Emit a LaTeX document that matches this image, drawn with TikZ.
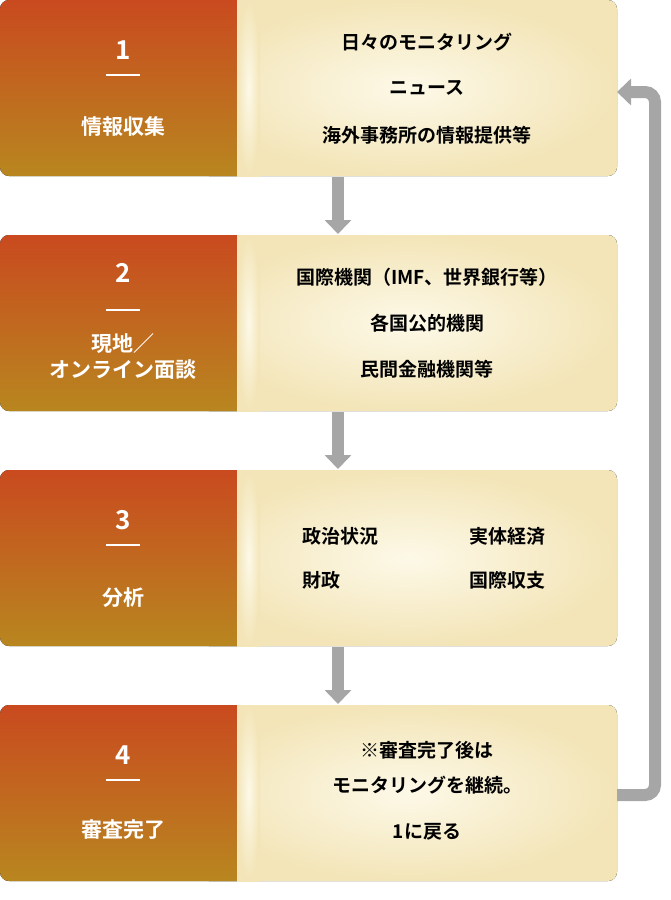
\documentclass[tikz,border=0pt]{standalone}
\usepackage{fontspec}
\setmainfont{Noto Sans CJK JP Bold}
\usetikzlibrary{arrows.meta}
\definecolor{lt}{HTML}{C94A1F}
\definecolor{lb}{HTML}{B8861F}
\definecolor{cc}{HTML}{FDF9E8}
\definecolor{ce}{HTML}{F3E5B8}
\definecolor{ag}{HTML}{A6A6A6}
\begin{document}
\begin{tikzpicture}[x=1pt,y=-1pt,
  lbox/.style={top color=lt,bottom color=lb,draw=none},
  rbox/.style={inner color=cc,outer color=ce,draw=none},
  num/.style={text=white,font=\fontsize{26}{28}\selectfont},
  lab/.style={text=white,font=\fontsize{21}{26}\selectfont,align=center},
  rt/.style={text=black,font=\fontsize{19}{22}\selectfont},
  dar/.style={ag,line width=12pt,-{Triangle[width=26pt,length=14pt]}}]
\useasboundingbox (0,0) rectangle (670,900);
\foreach \t/\i in {0/1,235/2,470/3,705/4}{
  \fill[rbox,rounded corners=9pt] (200,\t) rectangle (617,\t+176);
  \fill[lbox,rounded corners=9pt] (0,\t) rectangle (250,\t+176);
  \fill[rbox] (237,\t) rectangle (260,\t+176);
  \draw[white,line width=1.5pt] (106,\t+75) -- (140,\t+75);
}
\node[num] (n1) at (123,50) {1};
\node[lab] (l1) at (123,127) {情報収集};
\node[rt] (a1) at (427,42) {日々のモニタリング};
\node[rt] (a2) at (427,88) {ニュース};
\node[rt] (a3) at (427,135) {海外事務所の情報提供等};
\node[num] (n2) at (123,273) {2};
\node[lab] (l2) at (123,357) {現地／\\オンライン面談};
\node[rt] (b1) at (427,277) {国際機関（IMF、世界銀行等）};
\node[rt] (b2) at (427,323) {各国公的機関};
\node[rt] (b3) at (427,369) {民間金融機関等};
\node[num] (n3) at (123,520) {3};
\node[lab] (l3) at (123,598) {分析};
\node[rt] (c1) at (340,536) {政治状況};
\node[rt] (c2) at (507,536) {実体経済};
\node[rt,anchor=west] (c3) at (c1.west|-0,580) {財政};
\node[rt] (c4) at (507,580) {国際収支};
\node[num] (n4) at (123,755) {4};
\node[lab] (l4) at (123,830) {審査完了};
\node[rt] (d1) at (427,750) {※審査完了後は};
\node[rt] (d2) at (427,785) {モニタリングを継続。};
\node[rt] (d3) at (427,832) {1に戻る};
\coordinate (s1) at (338,177); \coordinate (e1) at (338,234);
\coordinate (s2) at (338,412); \coordinate (e2) at (338,469);
\coordinate (s3) at (338,647); \coordinate (e3) at (338,704);
\foreach \k in {1,2,3}{\draw[dar] (s\k) -- (e\k);}
\coordinate (f0) at (617,795); \coordinate (f1) at (655,795);
\coordinate (f2) at (655,92); \coordinate (f3) at (617,92);
\draw[ag,line width=12pt,rounded corners=10pt,-{Triangle[width=26pt,length=14pt]}] (f0) -- (f1) -- (f2) -- (f3);
\end{tikzpicture}
\end{document}
